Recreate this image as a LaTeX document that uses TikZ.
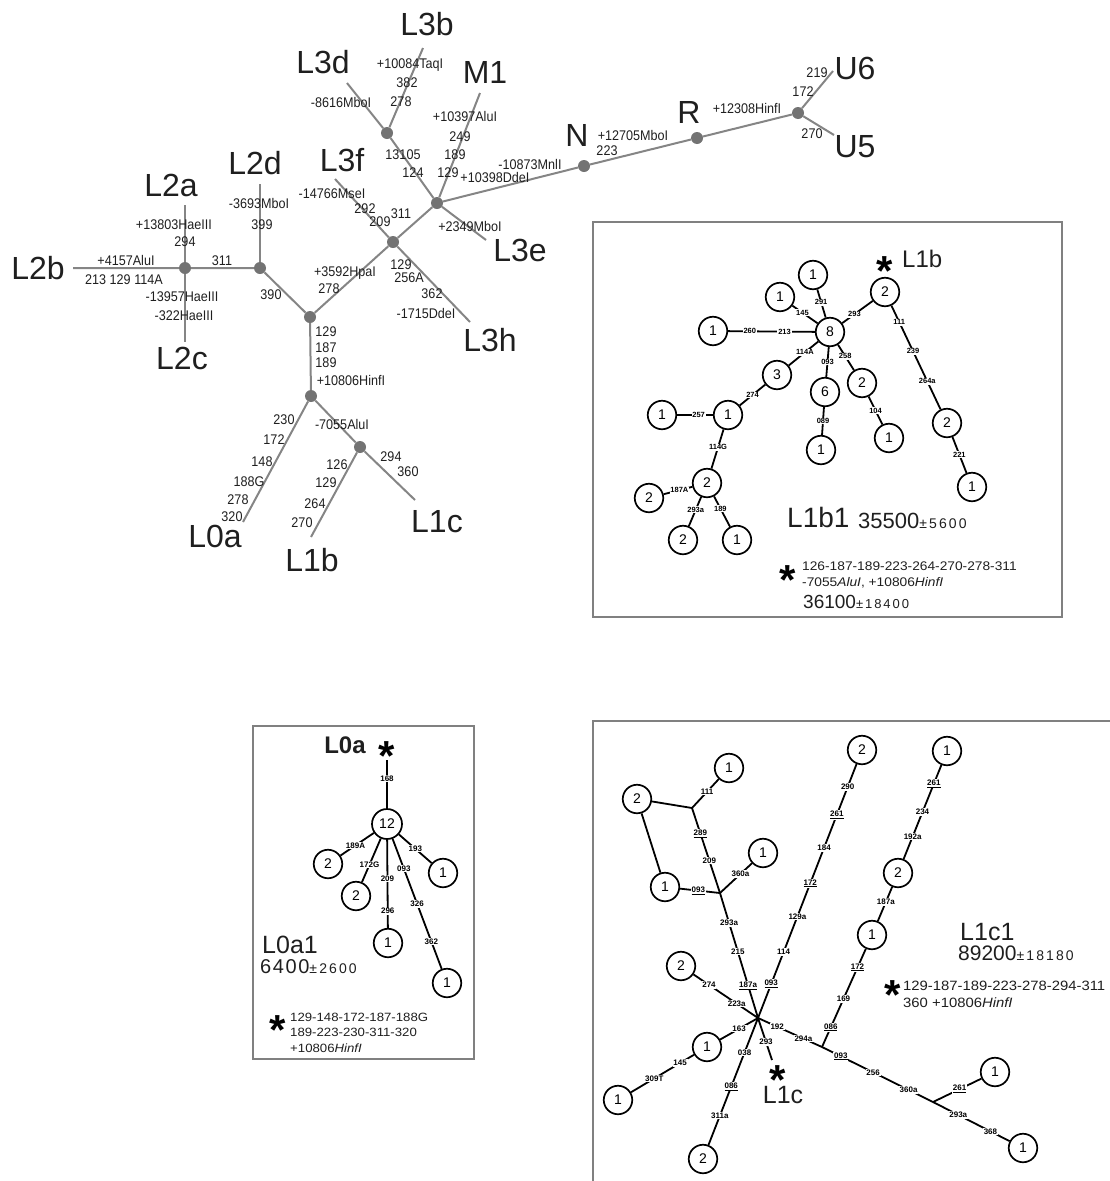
\documentclass[tikz,border=0pt]{standalone}
\usepackage{fontspec}
\setmainfont{Liberation Sans}
\newfontfamily\cond[FakeStretch=0.9]{Liberation Sans}
\newfontfamily\spaced[LetterSpace=15]{Liberation Sans}
\newfontfamily\spacedb[LetterSpace=8]{Liberation Sans}
\newfontfamily\wide[FakeStretch=1.1]{Liberation Sans}
\definecolor{tg}{gray}{0.52}
\definecolor{dg}{gray}{0.45}
\definecolor{tx}{gray}{0.12}
\definecolor{fr}{gray}{0.5}
\begin{document}
\begin{tikzpicture}[x=1pt,y=-1pt,
 tline/.style={draw=tg,line width=2pt},
 dot/.style={circle,fill=dg,minimum size=12pt,inner sep=0},
 big/.style={font=\fontsize{32}{32}\selectfont,text=tx,inner sep=0,text height=23pt,text depth=0pt},
 sm/.style={font=\cond\fontsize{14}{14}\selectfont,text=tx,inner sep=0,text height=10pt,text depth=0pt},
 cn/.style={circle,draw,line width=1.7pt,minimum size=28.5pt,inner sep=0,font=\fontsize{14}{14}\selectfont,fill=white},
 el/.style={draw,line width=1.8pt},
 lab/.style={fill=white,inner sep=0.8pt,font=\fontsize{8}{8}\selectfont\bfseries},
 labs/.style={fill=white,inner sep=0.8pt,font=\fontsize{7.5}{7.5}\selectfont\bfseries},
 frame/.style={draw=fr,line width=1.5pt},
 stn/.style={font=\fontsize{42}{42}\selectfont\bfseries,inner sep=0,yshift=-8pt},
 txt/.style={inner sep=0,text=tx,anchor=base west},
 ]
\useasboundingbox (0,0) rectangle (1109,1181);

% ---------------- top tree ----------------
\node[dot] (dL2a) at (185,268) {};
\node[dot] (dL2d) at (260,268) {};
\node[dot] (dC) at (310,317) {};
\node[dot] (dL3) at (393,242) {};
\node[dot] (dU) at (437,203) {};
\node[dot] (dL3d) at (387,133) {};
\node[dot] (dN) at (584,166) {};
\node[dot] (dR) at (697,138) {};
\node[dot] (dU5) at (798,113) {};
\node[dot] (dL1) at (311,396) {};
\node[dot] (dL1c) at (360,447) {};
\coordinate (eL2b) at (73,268);
\coordinate (eL2a) at (185,205);
\coordinate (eL2c) at (185,342);
\coordinate (eL2d) at (260,184);
\coordinate (eL3f) at (335,179);
\coordinate (eL3h) at (470,322);
\coordinate (eL3e) at (486,240);
\coordinate (eM1) at (480,93);
\coordinate (eL3d) at (347,83);
\coordinate (eL3b) at (423,48);
\coordinate (eL0a) at (243,522);
\coordinate (eL1b) at (311,537);
\coordinate (eL1c) at (415,500);
\coordinate (eU6) at (833,71);
\coordinate (eU5) at (834,135);

\draw[tline] (eL2b) -- (dL2a) -- (dL2d) -- (dC) -- (dL3) -- (dU) -- (dN) -- (dR) -- (dU5);
\draw[tline] (eL2a) -- (dL2a) -- (eL2c);
\draw[tline] (eL2d) -- (dL2d);
\draw[tline] (dC) -- (dL1) -- (eL0a);
\draw[tline] (dL1) -- (dL1c) -- (eL1b);
\draw[tline] (dL1c) -- (eL1c);
\draw[tline] (eL3f) -- (dL3) -- (eL3h);
\draw[tline] (dU) -- (eM1);
\draw[tline] (dU) -- (dL3d) -- (eL3d);
\draw[tline] (dL3d) -- (eL3b);
\draw[tline] (dU) -- (eL3e);
\draw[tline] (dU5) -- (eU6);
\draw[tline] (dU5) -- (eU5);

\node[big] (tL2b) at (38,268) {L2b};
\node[big] (tL2a) at (171,185) {L2a};
\node[big] (tL2d) at (255,163) {L2d};
\node[big] (tL2c) at (182,358) {L2c};
\node[big] (tL3b) at (427,24) {L3b};
\node[big] (tL3d) at (323,62) {L3d};
\node[big] (tM1) at (485,72) {M1};
\node[big] (tL3f) at (342,160) {L3f};
\node[big] (tL3e) at (520,250) {L3e};
\node[big] (tL3h) at (490,340) {L3h};
\node[big] (tN) at (577,135) {N};
\node[big] (tR) at (689,112) {R};
\node[big] (tU6) at (855,68) {U6};
\node[big] (tU5) at (855,146) {U5};
\node[big] (tL0a) at (215,536) {L0a};
\node[big] (tL1b) at (312,560) {L1b};
\node[big] (tL1c) at (437,521) {L1c};

\node[sm] (s1) at (174,224) {+13803HaeIII};
\node[sm] (s2) at (185,241) {294};
\node[sm] (s3) at (126,260) {+4157AluI};
\node[sm] (s4) at (124,279) {213 129 114A};
\node[sm] (s5) at (222,260) {311};
\node[sm] (s6) at (182,296) {-13957HaeIII};
\node[sm] (s7) at (184,315) {-322HaeIII};
\node[sm] (s8) at (259,203) {-3693MboI};
\node[sm] (s9) at (262,224) {399};
\node[sm] (s10) at (271,294) {390};
\node[sm] (s11) at (410,63) {+10084TaqI};
\node[sm] (s12) at (407,82) {382};
\node[sm] (s13) at (401,101) {278};
\node[sm] (s14) at (341,102) {-8616MboI};
\node[sm] (s15) at (465,116) {+10397AluI};
\node[sm] (s16) at (460,136) {249};
\node[sm] (s17) at (455,154) {189};
\node[sm] (s18) at (448,172) {129};
\node[sm] (s19) at (403,154) {13105};
\node[sm] (s20) at (413,172) {124};
\node[sm] (s21) at (332,193) {-14766MseI};
\node[sm] (s22) at (365,208) {292};
\node[sm] (s23) at (380,221) {209};
\node[sm] (s24) at (401,213) {311};
\node[sm] (s25) at (470,226) {+2349MboI};
\node[sm] (s26) at (495,177) {+10398DdeI};
\node[sm] (s27) at (345,271) {+3592HpaI};
\node[sm] (s28) at (329,288) {278};
\node[sm] (s29) at (401,264) {129};
\node[sm] (s30) at (409,277) {256A};
\node[sm] (s31) at (432,293) {362};
\node[sm] (s32) at (426,313) {-1715DdeI};
\node[sm] (s33) at (530,164) {-10873MnlI};
\node[sm] (s34) at (633,135) {+12705MboI};
\node[sm] (s35) at (607,150) {223};
\node[sm] (s36) at (747,108) {+12308HinfI};
\node[sm] (s37) at (817,72) {219};
\node[sm] (s38) at (803,91) {172};
\node[sm] (s39) at (812,133) {270};
\node[sm] (s40) at (326,331) {129};
\node[sm] (s41) at (326,347) {187};
\node[sm] (s42) at (326,362) {189};
\node[sm] (s43) at (351,380) {+10806HinfI};
\node[sm] (s44) at (284,419) {230};
\node[sm] (s45) at (274,439) {172};
\node[sm] (s46) at (262,461) {148};
\node[sm] (s47) at (249,481) {188G};
\node[sm] (s48) at (238,499) {278};
\node[sm] (s49) at (232,516) {320};
\node[sm] (s50) at (342,424) {-7055AluI};
\node[sm] (s51) at (337,464) {126};
\node[sm] (s52) at (326,482) {129};
\node[sm] (s53) at (315,503) {264};
\node[sm] (s54) at (302,522) {270};
\node[sm] (s55) at (391,456) {294};
\node[sm] (s56) at (408,471) {360};

% ---------------- L1b1 box ----------------
\draw[frame] (593,222) rectangle (1062,617);
\node[cn] (b8) at (830,332) {8};
\node[cn] (b1a) at (813,275) {1};
\node[cn] (b1b) at (780,297) {1};
\node[cn] (b1c) at (713,331) {1};
\node[cn] (b3) at (777,375) {3};
\node[cn] (b6) at (825,392) {6};
\node[cn] (b1d) at (821,450) {1};
\node[cn] (b2a) at (862,383) {2};
\node[cn] (b1e) at (889,438) {1};
\node[cn] (b2t) at (885,292) {2};
\node[cn] (b2c) at (947,423) {2};
\node[cn] (b1f) at (972,487) {1};
\node[cn] (b1g) at (728,415) {1};
\node[cn] (b1h) at (662,415) {1};
\node[cn] (b2d) at (707,483) {2};
\node[cn] (b2e) at (649,498) {2};
\node[cn] (b2f) at (683,540) {2};
\node[cn] (b1i) at (737,540) {1};
\draw[el] (b8) -- node[labs,pos=.55]{291} (b1a);
\draw[el] (b8) -- node[labs,pos=.6]{145} (b1b);
\draw[el] (b8) -- node[labs,pos=.35]{213} node[labs,pos=.75]{260} (b1c);
\draw[el] (b8) -- node[labs,pos=.45]{114A} (b3);
\draw[el] (b8) -- node[labs,pos=.5]{093} (b6);
\draw[el] (b8) -- node[labs,pos=.45]{258} (b2a);
\draw[el] (b8) -- node[labs,pos=.4]{293} (b2t);
\draw[el] (b6) -- node[labs,pos=.5]{089} (b1d);
\draw[el] (b2a) -- node[labs,pos=.5]{104} (b1e);
\draw[el] (b2t) -- node[labs,pos=.16]{111} node[labs,pos=.44]{239} node[labs,pos=.73]{264a} (b2c);
\draw[el] (b2c) -- node[labs,pos=.49]{221} (b1f);
\draw[el] (b3) -- node[labs,pos=.5]{274} (b1g);
\draw[el] (b1g) -- node[labs,pos=.4]{257} (b1h);
\draw[el] (b1g) -- node[labs,pos=.45]{114G} (b2d);
\draw[el] (b2d) -- node[labs,pos=.45]{187A} (b2e);
\draw[el] (b2d) -- node[labs,pos=.44]{293a} (b2f);
\draw[el] (b2d) -- node[labs,pos=.4]{189} (b1i);
\node[stn] (st1) at (885,263) {*};
\node[txt,font=\fontsize{24}{24}\selectfont] (tb1) at (902,267) {L1b};
\node[txt] (tb2) at (787,527) {\fontsize{28}{28}\selectfont L1b1};
\node[txt] (tb3) at (858,528) {{\fontsize{22}{22}\selectfont 35500}{\spaced\fontsize{14}{14}\selectfont ±5600}};
\node[stn] (st2) at (788,572) {*};
\node[txt,font=\wide\fontsize{12.5}{12.5}\selectfont] (tb4) at (802,570) {126-187-189-223-264-270-278-311};
\node[txt,font=\wide\fontsize{12.5}{12.5}\selectfont] (tb5) at (802,586) {-7055\textit{AluI}, +10806\textit{HinfI}};
\node[txt] (tb6) at (803,608) {{\fontsize{19}{19}\selectfont 36100}{\spaced\fontsize{13}{13}\selectfont ±18400}};

% ---------------- L0a box ----------------
\draw[frame] (253,726) rectangle (474,1059);
\node[cn,minimum size=30pt] (a12) at (387,824) {12};
\node[cn] (a2a) at (328,864) {2};
\node[cn] (a2b) at (356,896) {2};
\node[cn] (a1a) at (443,873) {1};
\node[cn] (a1b) at (388,943) {1};
\node[cn] (a1c) at (447,983) {1};
\coordinate (aS) at (387,760);
\draw[el] (aS) -- node[lab,pos=.38]{168} (a12);
\draw[el] (a12) -- node[lab,pos=.55]{189A} (a2a);
\draw[el] (a12) -- node[lab,pos=.6]{172G} (a2b);
\draw[el] (a12) -- node[lab,pos=.44]{209} node[lab,pos=.81]{296} (a1b);
\draw[el] (a12) -- node[lab,pos=.23]{093} node[lab,pos=.5]{326} node[lab,pos=.79]{362} (a1c);
\draw[el] (a12) -- node[lab,pos=.5]{193} (a1a);
\node[stn] (st3) at (387,748) {*};
\node[inner sep=0,font=\fontsize{24}{24}\selectfont\bfseries,text=tx] (ta1) at (345,745) {L0a};
\node[txt] (ta2) at (262,953) {\fontsize{25}{25}\selectfont L0a1};
\node[txt] (ta3) at (260,973) {{\spacedb\fontsize{20}{20}\selectfont 6400}{\spaced\fontsize{14}{14}\selectfont ±2600}};
\node[stn] (st4) at (278,1022) {*};
\node[txt,font=\wide\fontsize{12}{12}\selectfont] (ta4) at (290,1021) {129-148-172-187-188G};
\node[txt,font=\wide\fontsize{12}{12}\selectfont] (ta5) at (290,1036.5) {189-223-230-311-320};
\node[txt,font=\wide\fontsize{12}{12}\selectfont] (ta6) at (290,1052) {+10806\textit{HinfI}};

% ---------------- L1c box ----------------
\draw[frame] (593,721) rectangle (1130,1195);
\coordinate (hub) at (758,1018);
\coordinate (jR) at (822,1047);
\coordinate (jRR) at (933,1102);
\coordinate (jL) at (720,893);
\coordinate (jLL) at (692,808);
\coordinate (sL) at (772,1060);
\node[cn] (c2a) at (681,966) {2};
\node[cn] (c1a) at (707,1047) {1};
\node[cn] (c1b) at (618,1100) {1};
\node[cn] (c2b) at (703,1159) {2};
\node[cn] (c1c) at (872,935) {1};
\node[cn] (c2c) at (898,873) {2};
\node[cn] (c1d) at (947,751) {1};
\node[cn] (c1e) at (995,1072) {1};
\node[cn] (c1f) at (1023,1148) {1};
\node[cn] (c2d) at (862,750) {2};
\node[cn] (c1g) at (665,887) {1};
\node[cn] (c1h) at (763,853) {1};
\node[cn] (c1i) at (729,768) {1};
\node[cn] (c2e) at (637,799) {2};
\draw[el] (jLL) -- (c2e);
\draw[el] (c2e) -- (c1g);
\draw[el] (hub) -- node[lab,pos=.33]{223a} node[lab,pos=.76]{274} (c2a);
\draw[el] (hub) -- node[lab,pos=.5]{163} (c1a);
\draw[el] (c1a) -- node[lab,pos=.22]{145} node[lab,pos=.63]{309T} (c1b);
\draw[el] (hub) -- node[lab,pos=.27]{038} node[lab,pos=.54]{\underline{086}} node[lab,pos=.77]{311a} (c2b);
\draw[el] (hub) -- node[lab,pos=.57]{293} (sL);
\draw[el] (hub) -- node[lab,pos=.3]{192} node[lab,pos=.71]{294a} (jR);
\draw[el] (jR) -- node[lab,pos=.2]{\underline{086}} node[lab,pos=.49]{169} node[lab,pos=.81]{\underline{172}} (c1c);
\draw[el] (c1c) -- node[lab,pos=.56]{187a} (c2c);
\draw[el] (c2c) -- node[lab,pos=.24]{192a} node[lab,pos=.5]{234} node[lab,pos=.8]{\underline{261}} (c1d);
\draw[el] (jR) -- node[lab,pos=.17]{\underline{093}} node[lab,pos=.46]{256} node[lab,pos=.78]{360a} (jRR);
\draw[el] (jRR) -- node[lab,pos=.55]{\underline{261}} (c1e);
\draw[el] (jRR) -- node[lab,pos=.33]{293a} node[lab,pos=.75]{368} (c1f);
\draw[el] (hub) -- node[lab,pos=.134]{\underline{093}} node[lab,pos=.26]{114} node[lab,pos=.4]{129a} node[lab,pos=.53]{\underline{172}} node[lab,pos=.67]{184} node[lab,pos=.8]{\underline{261}} node[lab,pos=.91]{290} (c2d);
\draw[el] (hub) -- node[lab,pos=.26]{\underline{187a}} node[lab,pos=.53]{215} node[lab,pos=.76]{293a} (jL);
\draw[el] (jL) -- node[lab,pos=.54]{\underline{093}} (c1g);
\draw[el] (jL) -- node[lab,pos=.64]{360a} (c1h);
\draw[el] (jL) -- node[lab,pos=.38]{209} node[lab,pos=.7]{\underline{289}} (jLL);
\draw[el] (jLL) -- node[lab,pos=.56]{111} (c1i);
\node[stn] (st5) at (778,1072) {*};
\node[inner sep=0,font=\fontsize{25}{25}\selectfont,text=tx] (tc1) at (783,1095) {L1c};
\node[txt] (tc2) at (960,940) {\fontsize{25}{25}\selectfont L1c1};
\node[txt] (tc3) at (958,960) {{\fontsize{21}{21}\selectfont 89200}{\spaced\fontsize{14}{14}\selectfont ±18180}};
\node[stn] (st6) at (893,987) {*};
\node[txt,font=\wide\fontsize{13.5}{13.5}\selectfont] (tc4) at (903,990) {129-187-189-223-278-294-311};
\node[txt,font=\wide\fontsize{13.5}{13.5}\selectfont] (tc5) at (903,1007) {360 +10806\textit{HinfI}};
\end{tikzpicture}
\end{document}
